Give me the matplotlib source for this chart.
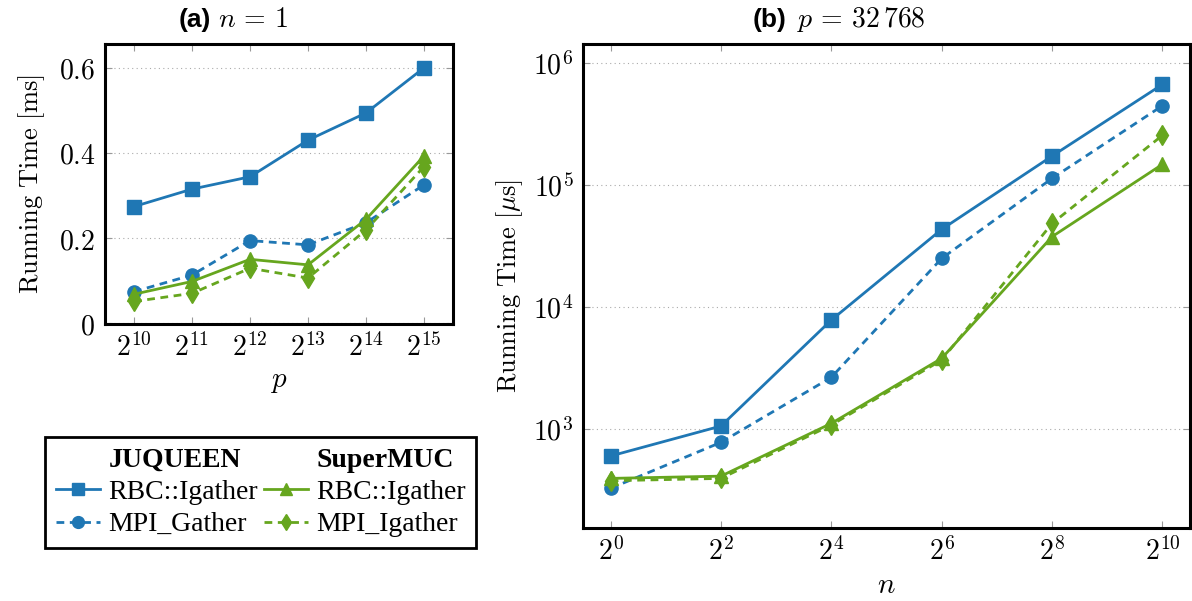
import math
import matplotlib
matplotlib.use('Agg')
import matplotlib.pyplot as plt
from matplotlib.lines import Line2D
from matplotlib.ticker import FixedLocator, FuncFormatter, NullLocator

plt.rcParams['mathtext.fontset'] = 'cm'
plt.rcParams['axes.unicode_minus'] = False

# colours
blue = '#1f77b4'
green = '#66a61e'

# (a) n = 1, running time in ms over p = 2^10 .. 2^15
p_exp = [10, 11, 12, 13, 14, 15]
a_rbc_juqueen = [0.274, 0.315, 0.344, 0.430, 0.494, 0.600]
a_mpi_gather = [0.074, 0.113, 0.194, 0.184, 0.236, 0.325]
a_rbc_supermuc = [0.068, 0.098, 0.150, 0.137, 0.244, 0.393]
a_mpi_igather = [0.051, 0.070, 0.129, 0.106, 0.219, 0.368]

# (b) p = 32768, running time in us over n = 2^0 .. 2^10
n_exp = [0, 2, 4, 6, 8, 10]
b_rbc_juqueen = [597, 1052, 7800, 43300, 173000, 670000]
b_mpi_gather = [324, 773, 2640, 25000, 113500, 448000]
b_rbc_supermuc = [391, 408, 1106, 3780, 37700, 148000]
b_mpi_igather = [374, 391, 1072, 3660, 48400, 256000]

left_yticks = [0, 0.2, 0.4, 0.6]
left_yticklabels = ['0', '0.2', '0.4', '0.6']

W, H = 1192, 601
fig = plt.figure(figsize=(W / 100, H / 100), dpi=100)

def px_axes(x0, y0, x1, y1):
    return fig.add_axes([x0 / W, 1 - y1 / H, (x1 - x0) / W, (y1 - y0) / H])

axA = px_axes(105, 44, 453, 324)
axB = px_axes(583, 44, 1190, 528)

lw = 2.0
dash = (2.8, 2.0)

def draw(ax, xs, s1, s2, s3, s4):
    ax.plot(xs, s1, color=blue, lw=lw, marker='s', ms=10, zorder=3)
    ax.plot(xs, s2, color=blue, lw=lw, ls='--', dashes=dash, marker='o', ms=9.5, zorder=3)
    ax.plot(xs, s3, color=green, lw=lw, marker='^', ms=10, zorder=3)
    ax.plot(xs, s4, color=green, lw=lw, ls='--', dashes=dash, marker='d', ms=10, zorder=3)

def style(ax):
    for s in ax.spines.values():
        s.set_linewidth(2.2)
        s.set_color('black')
    ax.tick_params(which='both', direction='in', length=5, width=0.8, color='#999999',
                   top=True, right=True, labelsize=20, pad=7)
    ax.grid(axis='y', which='major', color='#aaaaaa', lw=0.8, ls=(0, (1, 3)))
    ax.set_axisbelow(True)

pow2 = FuncFormatter(lambda v, pos: r'$2^{%d}$' % round(math.log2(v)))
pow10 = FuncFormatter(lambda v, pos: r'$10^{%d}$' % round(math.log10(v)))

# panel (a)
xa = [2 ** e for e in p_exp]
draw(axA, xa, a_rbc_juqueen, a_mpi_gather, a_rbc_supermuc, a_mpi_igather)
axA.set_xscale('log', base=2)
axA.set_xlim(2 ** 9.5, 2 ** 15.5)
axA.xaxis.set_major_locator(FixedLocator(xa))
axA.xaxis.set_minor_locator(NullLocator())
axA.xaxis.set_major_formatter(pow2)
axA.set_ylim(-0.002, 0.656)
axA.set_yticks(left_yticks)
axA.set_yticklabels(['$%s$' % t for t in left_yticklabels])
style(axA)
axA.set_xlabel('$p$', fontsize=21, labelpad=3)
axA.set_ylabel(r'$\mathrm{Running\ Time\ [ms]}$', fontsize=19, labelpad=8)

# panel (b)
xb = [2 ** e for e in n_exp]
draw(axB, xb, b_rbc_juqueen, b_mpi_gather, b_rbc_supermuc, b_mpi_igather)
axB.set_xscale('log', base=2)
axB.set_xlim(2 ** -0.5, 2 ** 10.5)
axB.xaxis.set_major_locator(FixedLocator(xb))
axB.xaxis.set_minor_locator(NullLocator())
axB.xaxis.set_major_formatter(pow2)
axB.set_yscale('log')
axB.set_ylim(10 ** 2.185, 10 ** 6.158)
axB.yaxis.set_major_locator(FixedLocator([1e3, 1e4, 1e5, 1e6]))
axB.yaxis.set_minor_locator(NullLocator())
axB.yaxis.set_major_formatter(pow10)
style(axB)
axB.set_xlabel('$n$', fontsize=21, labelpad=3)
axB.set_ylabel(r'$\mathrm{Running\ Time\ [\mu s]}$', fontsize=19, labelpad=6)

# titles
ty = 1 - 27 / H
fig.text(211 / W, ty, '(a)', ha='right', va='baseline', fontsize=19,
         fontweight='bold', family='Liberation Sans')
fig.text(218 / W, ty, r'$n\,=\,1$', ha='left', va='baseline', fontsize=20)
fig.text(787 / W, ty, '(b)', ha='right', va='baseline', fontsize=19,
         fontweight='bold', family='Liberation Sans')
fig.text(797 / W, ty, r'$p\,=\,32\,768$', ha='left', va='baseline', fontsize=20)

# legend
def entry(color, ls, marker, label):
    return Line2D([], [], color=color, lw=lw, ls=ls, marker=marker, ms=8.5,
                  dashes=dash if ls == '--' else (None, None), label=label)

handles = [
    Line2D([], [], ls='none', label='JUQUEEN'),
    entry(blue, '-', 's', 'RBC::Igather'),
    entry(blue, '--', 'o', 'MPI_Gather'),
    Line2D([], [], ls='none', label='SuperMUC'),
    entry(green, '-', '^', 'RBC::Igather'),
    entry(green, '--', 'd', 'MPI_Igather'),
]
leg = fig.legend(handles=handles, ncol=2, loc='upper left',
                 bbox_to_anchor=(45 / W, 1 - 437 / H), bbox_transform=fig.transFigure,
                 prop={'family': 'Liberation Serif', 'size': 20},
                 frameon=True, fancybox=False, edgecolor='black', framealpha=1,
                 handlelength=1.6, handletextpad=0.3, columnspacing=0.2,
                 borderpad=0.38, labelspacing=0.24, borderaxespad=0)
leg.get_frame().set_linewidth(2)
for t in leg.get_texts():
    if t.get_text() in ('JUQUEEN', 'SuperMUC'):
        t.set_fontweight('bold')

fig.savefig('out.png', dpi=100)
